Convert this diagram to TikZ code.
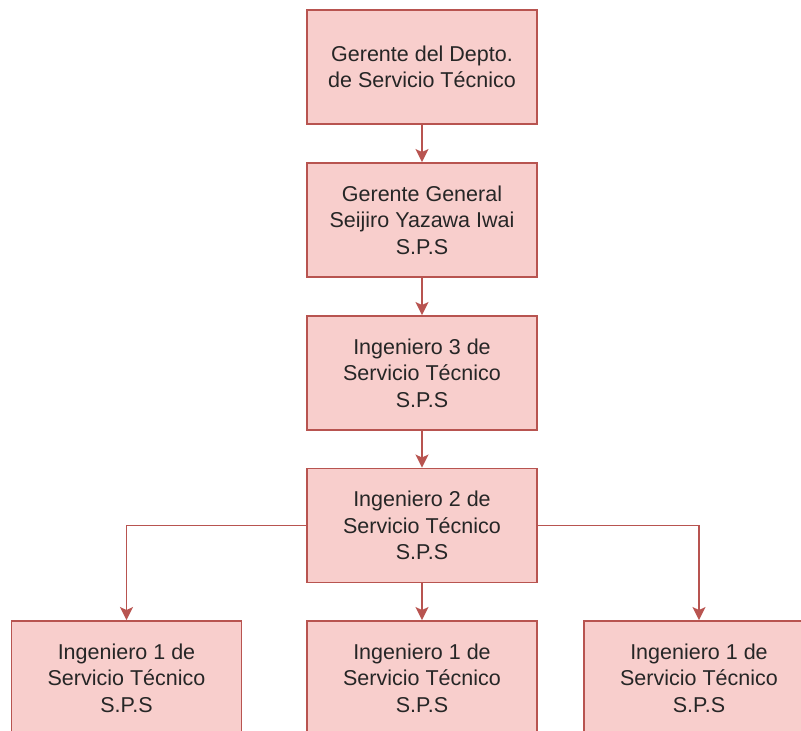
\documentclass[tikz,border=0pt]{standalone}
\usepackage{fontspec}
\setmainfont{Liberation Sans}
\usetikzlibrary{arrows.meta}

\definecolor{boxfill}{HTML}{F8CECC}
\definecolor{boxline}{HTML}{B85450}

\tikzset{
  puesto/.style={draw=boxline, fill=boxfill, line width=1.9pt, rectangle,
    minimum width=230pt, minimum height=114pt, inner sep=0pt,
    align=center, text=black!85,
    font=\fontsize{21.5pt}{26.5pt}\selectfont},
  enlace/.style={draw=boxline, line width=1.9pt,
    -{Stealth[length=13pt, width=13pt, inset=3pt]}}
}

\begin{document}
\begin{tikzpicture}[x=1pt, y=-1pt]
  \useasboundingbox (0,0) rectangle (801,731);

  \node[puesto] (depto) at (422,67) {Gerente del Depto.\\de Servicio Técnico};
  \node[puesto] (general) at (422,220) {Gerente General\\Seijiro Yazawa Iwai\\S.P.S};
  \node[puesto] (ing3) at (422,373) {Ingeniero 3 de\\Servicio Técnico\\S.P.S};
  \node[puesto] (ing2) at (422,525.5) {Ingeniero 2 de\\Servicio Técnico\\S.P.S};

  \node[puesto] (ingA) at (126.5,678) {Ingeniero 1 de\\Servicio Técnico\\S.P.S};
  \node[puesto] (ingB) at (422,678) {Ingeniero 1 de\\Servicio Técnico\\S.P.S};
  \node[puesto] (ingC) at (699,678) {Ingeniero 1 de\\Servicio Técnico\\S.P.S};

  \draw[enlace] (depto) -- (general);
  \draw[enlace] (general) -- (ing3);
  \draw[enlace] (ing3) -- (ing2);
  \draw[enlace] (ing2) -| (ingA);
  \draw[enlace] (ing2) -- (ingB);
  \draw[enlace] (ing2) -| (ingC);
\end{tikzpicture}
\end{document}
